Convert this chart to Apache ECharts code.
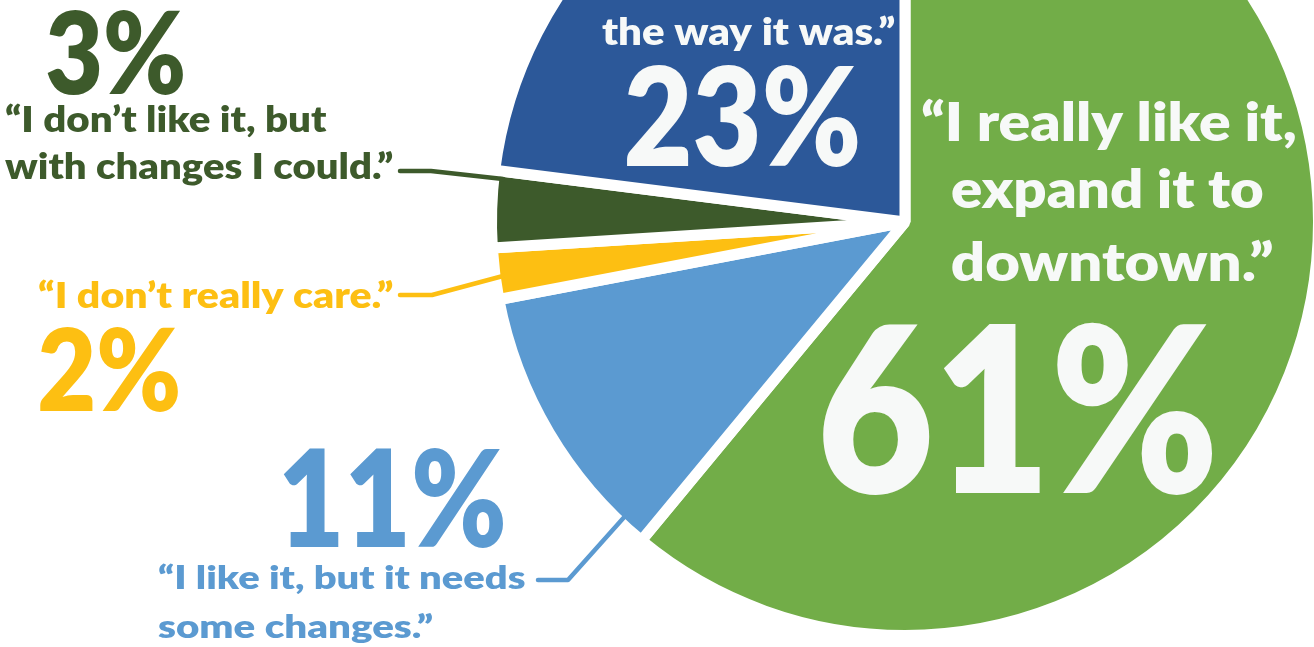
<!DOCTYPE html>
<html>
<head>
<meta charset="utf-8">
<script src="https://cdn.jsdelivr.net/npm/echarts@6/dist/echarts.min.js"></script>
<style>
html,body{margin:0;padding:0;background:#ffffff;}
#chart{width:1314px;height:647px;}
</style>
</head>
<body>
<div id="chart"></div>
<script>
// ---------------- DATA ----------------
const categories = [
  'I really like it, expand it to downtown.',
  'I like it, but it needs some changes.',
  'I don’t really care.',
  'I don’t like it, but with changes I could.',
  '… the way it was.'
];
const shares = [61, 11, 2, 3, 23];
const quoteLines = [
  ['“I really like it,', 'expand it to', 'downtown.”'],
  ['“I like it, but it needs', 'some changes.”'],
  ['“I don’t really care.”'],
  ['“I don’t like it, but', 'with changes I could.”'],
  ['the way it was.”']
];

// ---------------- STYLE / LAYOUT ----------------
const sliceColors = ['#72AD48', '#5B9AD1', '#FDBF12', '#3D5A2B', '#2C5899'];
const textColors  = ['#F7F9F8', '#5B9AD1', '#FDBF12', '#3D5A2B', '#F7F9F8'];
const FONT_FAMILY = 'Lato';
const FONT_WEIGHT = '800';

// ink boxes for the big percentages: [left, right, top, bottom]
const pctBoxes = [
  [823, 1212, 322, 495],
  [283, 503, 447, 548],
  [40, 178, 327, 412],
  [47, 183, 10, 95],
  [627, 858, 65, 167]
];
// quote lines: [left, right, baseline, capHeight]
const lineBoxes = [
  [[922, 1295, 141, 39], [952, 1263, 208, 39], [952, 1273, 281, 39]],
  [[158, 525, 589, 24], [158, 433, 638, 24]],
  [[38, 393, 308, 26]],
  [[5, 327, 132, 26], [5, 393, 179, 26]],
  [[602, 895, 45, 28]]
];
// leader lines
const leaders = [
  null,
  [[538, 580], [568, 580], [627, 514]],
  [[400, 295], [432, 295], [503, 276]],
  [[400, 171], [431, 171], [503, 179]],
  null
];

const pieCenter = [905, 222];
const gap = 11;
const visibleRadius = 408;

// ---------------- TEXT FITTING ----------------
const mctx = document.createElement('canvas').getContext('2d');
function measure(str, size) {
  mctx.font = FONT_WEIGHT + ' ' + size + 'px ' + FONT_FAMILY;
  mctx.textBaseline = 'middle';
  mctx.textAlign = 'left';
  return mctx.measureText(str);
}
function textEl(str, fs, x0, y0, sx, color) {
  return {
    type: 'text', x: x0, y: y0, scaleX: sx, silent: true, z: 10,
    style: {
      text: str, x: 0, y: 0, fill: color,
      fontSize: fs, fontWeight: FONT_WEIGHT, fontFamily: FONT_FAMILY,
      align: 'left', verticalAlign: 'middle'
    }
  };
}
function fitBox(str, box, color) {
  const [l, r, t, b] = box;
  const m100 = measure(str, 100);
  const inkH = m100.actualBoundingBoxAscent + m100.actualBoundingBoxDescent;
  const fs = 100 * (b - t) / inkH;
  const m = measure(str, fs);
  const sx = (r - l) / (m.actualBoundingBoxLeft + m.actualBoundingBoxRight);
  const x0 = l + m.actualBoundingBoxLeft * sx;
  const y0 = t + m.actualBoundingBoxAscent;
  return textEl(str, fs, x0, y0, sx, color);
}
function fitLine(str, box, color) {
  const [l, r, base, cap] = box;
  const h100 = measure('H', 100);
  const capRatio = (h100.actualBoundingBoxAscent + h100.actualBoundingBoxDescent) / 100;
  const fs = cap / capRatio;
  const mH = measure('H', fs);
  const y0 = base - mH.actualBoundingBoxDescent;
  const m = measure(str, fs);
  const sx = (r - l) / (m.actualBoundingBoxLeft + m.actualBoundingBoxRight);
  const x0 = l + m.actualBoundingBoxLeft * sx;
  return textEl(str, fs, x0, y0, sx, color);
}

const graphics = [];
shares.forEach((v, i) => {
  graphics.push(fitBox(v + '%', pctBoxes[i], textColors[i]));
  quoteLines[i].forEach((ln, j) => {
    graphics.push(fitLine(ln, lineBoxes[i][j], textColors[i]));
  });
  if (leaders[i]) {
    graphics.push({
      type: 'polyline', silent: true, z: 5,
      shape: { points: leaders[i] },
      style: { stroke: sliceColors[i], lineWidth: 4.5, fill: null, lineJoin: 'round', lineCap: 'round' }
    });
  }
});

const chart = echarts.init(document.getElementById('chart'), null, { renderer: 'canvas' });
chart.setOption({
  animation: false,
  backgroundColor: '#ffffff',
  series: [{
    type: 'pie',
    silent: true,
    center: pieCenter,
    radius: visibleRadius + gap / 2,
    startAngle: 90,
    clockwise: true,
    avoidLabelOverlap: false,
    label: { show: false },
    labelLine: { show: false },
    itemStyle: { borderColor: '#ffffff', borderWidth: gap, borderJoin: 'bevel' },
    data: categories.map((name, i) => ({
      name: name, value: shares[i], itemStyle: { color: sliceColors[i] }
    }))
  }],
  graphic: { elements: graphics }
});
</script>
</body>
</html>
